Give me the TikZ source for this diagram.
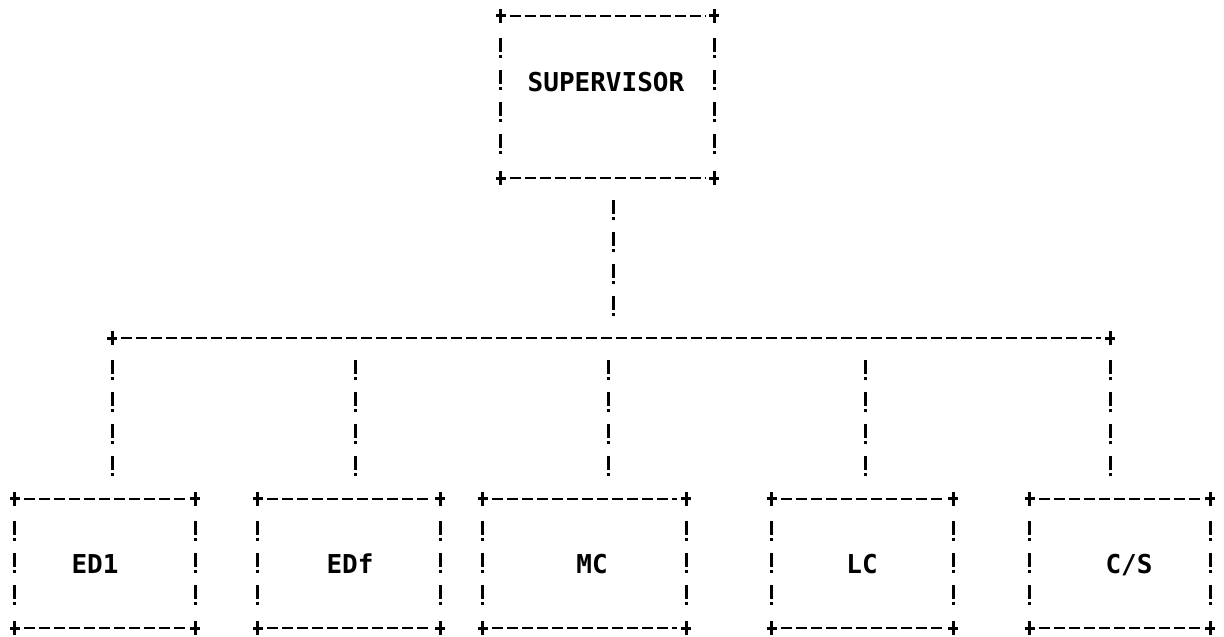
\documentclass[tikz,border=0pt]{standalone}
\usepackage{fontspec}
\newfontfamily\dotfont{DejaVu Sans Mono}
\usepackage{tikz}

\tikzset{
  box/.style={rectangle, draw=none, inner sep=0pt},
  hline/.style={line width=2.2pt, dash pattern=on 11pt off 4pt, shorten <=9pt, shorten >=9pt},
  vline/.style={line width=3pt, dash pattern=on 14pt off 3pt on 3pt off 12pt, shorten <=22pt, shorten >=22pt},
  corner/.style={line width=3pt},
  boxtext/.style={anchor=base, inner sep=0pt, font=\dotfont\bfseries\fontsize{26}{30}\selectfont}
}

\begin{document}
\begin{tikzpicture}[x=1pt, y=-1pt]
  \useasboundingbox (0,0) rectangle (1224,637);

  % the boxes
  \node[box, minimum width=213pt, minimum height=162pt] (sup) at (607.5,97) {};
  \node[box, minimum width=180pt, minimum height=129pt] (ed1) at (105,563.5) {};
  \node[box, minimum width=182pt, minimum height=129pt] (edf) at (349,563.5) {};
  \node[box, minimum width=203pt, minimum height=129pt] (mc)  at (584.5,563.5) {};
  \node[box, minimum width=181pt, minimum height=129pt] (lc)  at (862.5,563.5) {};
  \node[box, minimum width=180pt, minimum height=129pt] (cs)  at (1120,563.5) {};

  \node[boxtext] (suptext) at (606,91) {SUPERVISOR};
  \node[boxtext] (ed1text) at (95,573) {ED1};
  \node[boxtext] (edftext) at (350,573) {EDf};
  \node[boxtext] (mctext)  at (592,573) {MC};
  \node[boxtext] (lctext)  at (862,573) {LC};
  \node[boxtext] (cstext)  at (1129,573) {C/S};

  \foreach \n in {sup,ed1,edf,mc,lc,cs} {
    \draw[hline] (\n.north west) -- (\n.north east);
    \draw[hline] (\n.south west) -- (\n.south east);
    \draw[vline] (\n.north west) -- (\n.south west);
    \draw[vline] (\n.north east) -- (\n.south east);
    \foreach \c in {north west,north east,south west,south east}
      \draw[corner] (\n.\c) +(-5,0) -- +(5,0) +(0,-7) -- +(0,7);
  }

  % the bus
  \coordinate (busl) at (112,338);
  \coordinate (busr) at (1110,338);
  \draw[hline] (busl) -- (busr);
  \foreach \p in {busl,busr}
    \draw[corner] (\p) +(-5,0) -- +(5,0) +(0,-7) -- +(0,7);

  \coordinate (j0) at (613,338);
  \draw[vline] (sup.south -| j0) -- (j0);
  \foreach \n/\x in {ed1/112,edf/355,mc/608,lc/865,cs/1110} {
    \coordinate (\n top) at (\x,338);
    \draw[vline] (\n top) -- (\n top |- \n.north);
  }
\end{tikzpicture}
\end{document}
